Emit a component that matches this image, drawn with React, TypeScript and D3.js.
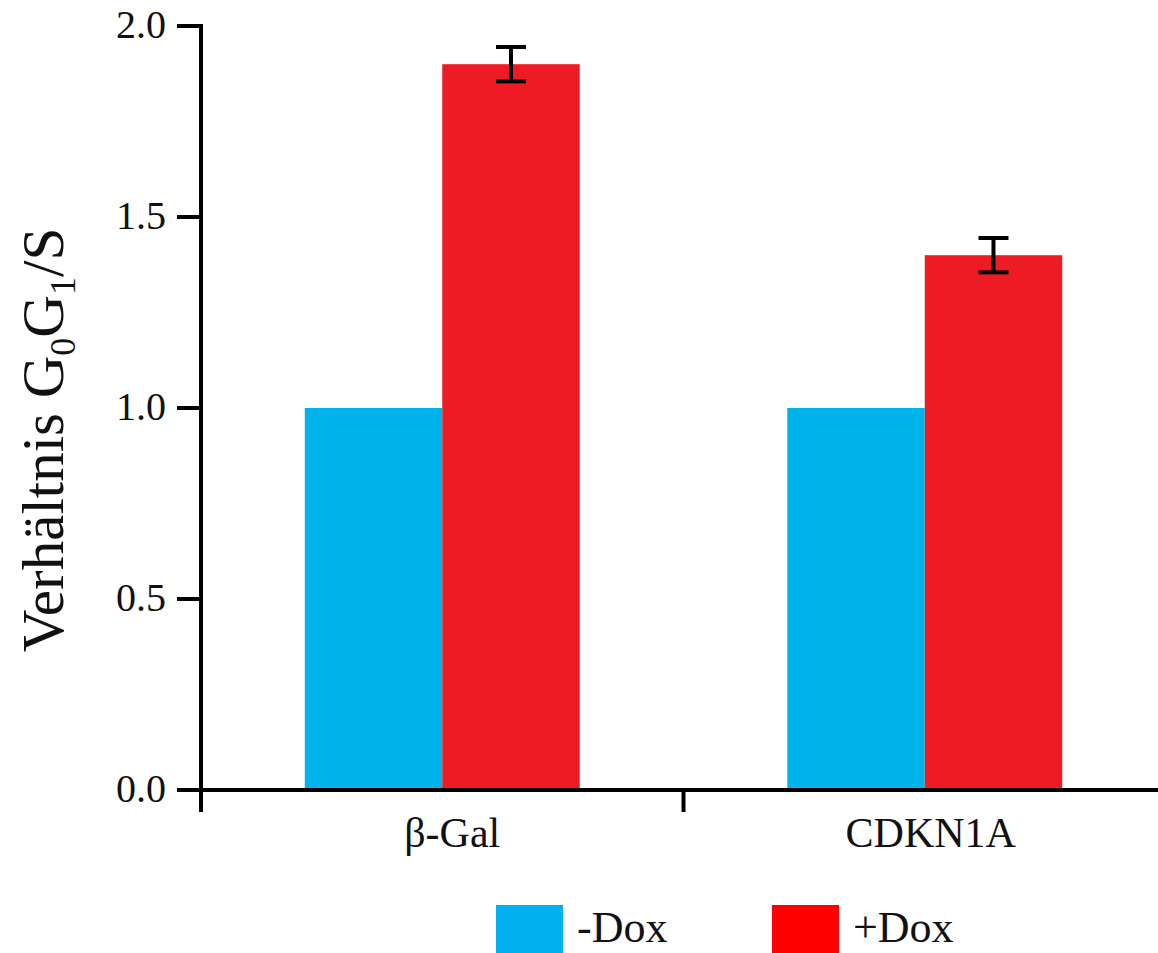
import React from "react";
import * as d3 from "d3";

const categories = ["β-Gal", "CDKN1A"];
const seriesNames = ["-Dox", "+Dox"];
const minusDox = [1.0, 1.0];
const plusDox = [1.9, 1.4];
const plusDoxErr = [0.045, 0.045];
const yTicks = [0, 0.5, 1.0, 1.5, 2.0];

const W = 1158;
const H = 953;
const barColors = ["#00B3EB", "#ED1C24"];
const legendColors = ["#00B0F0", "#FF0000"];
const FONT = "'Liberation Serif', 'Times New Roman', serif";

export default function App() {
  const axisX = 201;
  const axisY = 790;
  const y = d3.scaleLinear().domain([0, 2]).range([axisY, 26]);
  const x0 = d3.scaleBand<string>().domain(categories).range([axisX, axisX + 965]).paddingInner(0).paddingOuter(0);
  const x1 = d3
    .scaleBand<string>()
    .domain(seriesNames)
    .range([0, x0.bandwidth()])
    .paddingInner(0)
    .paddingOuter(0.755);
  const values = [minusDox, plusDox];
  const tickBoundaries = [...categories.map((c) => x0(c) as number)];
  const labelShift = [10, 6];

  return (
    <svg
      width={W}
      height={H}
      style={{ position: "absolute", left: 0, top: 0, background: "#fff", display: "block" }}
      fontFamily={FONT}
    >
      {/* bars */}
      {categories.map((c, ci) =>
        seriesNames.map((s, si) => {
          const v = values[si][ci];
          const bx = (x0(c) as number) + (x1(s) as number);
          return (
            <rect
              key={c + s}
              x={bx}
              y={y(v)}
              width={x1.bandwidth()}
              height={y(0) - y(v)}
              fill={barColors[si]}
            />
          );
        })
      )}
      {/* error bars */}
      {categories.map((c, ci) => {
        const cx = (x0(c) as number) + (x1("+Dox") as number) + x1.bandwidth() / 2;
        const hi = y(plusDox[ci] + plusDoxErr[ci]);
        const lo = y(plusDox[ci] - plusDoxErr[ci]);
        return (
          <g key={"err" + c} stroke="#000" strokeWidth={4}>
            <line x1={cx} x2={cx} y1={hi} y2={lo} />
            <line x1={cx - 15} x2={cx + 15} y1={hi} y2={hi} />
            <line x1={cx - 15} x2={cx + 15} y1={lo} y2={lo} />
          </g>
        );
      })}
      {/* y axis */}
      <line x1={axisX} x2={axisX} y1={y(2) - 2} y2={axisY + 22} stroke="#000" strokeWidth={4} />
      {yTicks.map((t) => (
        <g key={"yt" + t}>
          <line x1={axisX - 24} x2={axisX} y1={y(t)} y2={y(t)} stroke="#000" strokeWidth={4} />
          <text
            x={166}
            y={y(t)}
            dy="0.3em"
            textAnchor="end"
            fontSize={40}
            fill="#111"
          >
            {t.toFixed(1)}
          </text>
        </g>
      ))}
      {/* x axis */}
      <line x1={axisX - 24} x2={W} y1={axisY} y2={axisY} stroke="#000" strokeWidth={4} />
      {tickBoundaries.map((tx, i) => (
        <line key={"xt" + i} x1={tx} x2={tx} y1={axisY} y2={axisY + 22} stroke="#000" strokeWidth={4} />
      ))}
      {categories.map((c, i) => (
        <text
          key={"xl" + c}
          x={(x0(c) as number) + x0.bandwidth() / 2 + labelShift[i]}
          y={847}
          textAnchor="middle"
          fontSize={42}
          fill="#111"
        >
          {c}
        </text>
      ))}
      {/* y label */}
      <text
        transform={`translate(63, 440) rotate(-90)`}
        textAnchor="middle"
        fontSize={59}
        fill="#111"
      >
        Verhältnis G<tspan fontSize={36} dy={12}>0</tspan>
        <tspan dy={-12}>G</tspan>
        <tspan fontSize={36} dy={12}>1</tspan>
        <tspan dy={-12}>/S</tspan>
      </text>
      {/* legend */}
      {seriesNames.map((s, i) => {
        const lx = [496, 772][i];
        return (
          <g key={"lg" + s}>
            <rect x={lx} y={905} width={67} height={60} fill={legendColors[i]} />
            <text x={lx + 81} y={942} fontSize={44} fill="#111">
              {s}
            </text>
          </g>
        );
      })}
    </svg>
  );
}
